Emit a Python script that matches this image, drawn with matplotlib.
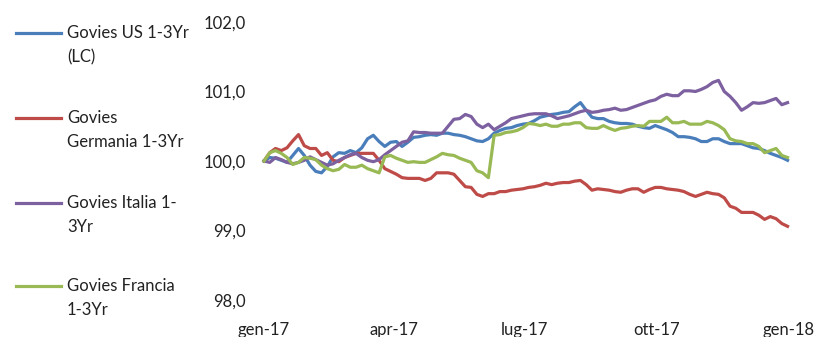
# Govies 1-3Yr indices, 2017 (base 100)

import matplotlib
matplotlib.use("Agg")
import matplotlib.pyplot as plt
import matplotlib.dates as mdates
from matplotlib.lines import Line2D
import pandas as pd

# Data (sampled every 4 days from the chart)
dates = pd.date_range("2017-01-01", periods=92, freq="4D")

us = [100.00, 100.05, 100.04, 100.01, 99.98, 100.08, 100.18, 100.08, 99.94, 99.85,
      99.83, 99.92, 100.06, 100.12, 100.11, 100.15, 100.12, 100.19, 100.32, 100.37,
      100.28, 100.21, 100.27, 100.28, 100.21, 100.27, 100.34, 100.35, 100.37, 100.38,
      100.37, 100.40, 100.40, 100.38, 100.37, 100.35, 100.32, 100.29, 100.28, 100.32,
      100.40, 100.44, 100.47, 100.48, 100.51, 100.53, 100.54, 100.58, 100.63, 100.65,
      100.67, 100.68, 100.70, 100.71, 100.78, 100.84, 100.73, 100.63, 100.61, 100.61,
      100.57, 100.55, 100.54, 100.54, 100.53, 100.50, 100.48, 100.47, 100.51, 100.48,
      100.45, 100.41, 100.35, 100.35, 100.34, 100.32, 100.28, 100.28, 100.32, 100.32,
      100.28, 100.25, 100.25, 100.25, 100.22, 100.19, 100.18, 100.15, 100.11, 100.08,
      100.05, 100.01]

germania = [100.00, 100.12, 100.18, 100.15, 100.19, 100.29, 100.38, 100.22, 100.18, 100.18,
            100.08, 100.12, 100.01, 99.99, 100.05, 100.08, 100.11, 100.11, 100.11, 100.11,
            100.01, 99.89, 99.85, 99.81, 99.76, 99.75, 99.75, 99.75, 99.72, 99.75,
            99.83, 99.83, 99.83, 99.81, 99.72, 99.63, 99.62, 99.52, 99.49, 99.53,
            99.53, 99.56, 99.56, 99.58, 99.59, 99.60, 99.62, 99.63, 99.65, 99.68,
            99.66, 99.68, 99.69, 99.69, 99.71, 99.72, 99.66, 99.58, 99.60, 99.59,
            99.58, 99.56, 99.55, 99.58, 99.60, 99.60, 99.55, 99.59, 99.62, 99.62,
            99.60, 99.59, 99.58, 99.56, 99.52, 99.49, 99.52, 99.55, 99.53, 99.52,
            99.47, 99.35, 99.32, 99.26, 99.26, 99.26, 99.22, 99.16, 99.20, 99.17,
            99.10, 99.06]

italia = [100.00, 99.98, 100.05, 100.02, 99.98, 99.96, 99.98, 100.01, 100.06, 100.02,
          99.98, 99.94, 99.96, 100.01, 100.05, 100.09, 100.11, 100.05, 100.01, 99.99,
          100.02, 100.09, 100.15, 100.21, 100.27, 100.29, 100.42, 100.41, 100.41, 100.40,
          100.40, 100.40, 100.50, 100.60, 100.61, 100.67, 100.64, 100.53, 100.48, 100.53,
          100.45, 100.50, 100.55, 100.61, 100.63, 100.65, 100.67, 100.68, 100.68, 100.68,
          100.65, 100.61, 100.63, 100.65, 100.68, 100.71, 100.73, 100.70, 100.71, 100.73,
          100.74, 100.76, 100.73, 100.74, 100.77, 100.80, 100.83, 100.86, 100.88, 100.93,
          100.96, 100.94, 100.94, 101.01, 101.01, 101.00, 101.03, 101.07, 101.13, 101.16,
          101.00, 100.93, 100.84, 100.73, 100.78, 100.84, 100.83, 100.84, 100.87, 100.90,
          100.81, 100.84]

francia = [100.00, 100.12, 100.15, 100.11, 100.05, 99.95, 99.98, 100.05, 100.04, 100.02,
           99.94, 99.89, 99.86, 99.88, 99.95, 99.91, 99.91, 99.94, 99.89, 99.86,
           99.83, 100.06, 100.08, 100.04, 100.01, 99.98, 99.99, 99.98, 99.98, 100.02,
           100.06, 100.11, 100.09, 100.08, 100.04, 100.01, 99.98, 99.86, 99.83, 99.76,
           100.37, 100.38, 100.41, 100.42, 100.44, 100.48, 100.54, 100.53, 100.51, 100.53,
           100.50, 100.50, 100.53, 100.53, 100.55, 100.55, 100.48, 100.47, 100.47, 100.51,
           100.47, 100.44, 100.47, 100.48, 100.50, 100.51, 100.50, 100.57, 100.57, 100.57,
           100.63, 100.55, 100.55, 100.57, 100.53, 100.53, 100.53, 100.57, 100.55, 100.51,
           100.45, 100.32, 100.29, 100.28, 100.25, 100.25, 100.21, 100.12, 100.15, 100.18,
           100.08, 100.05]

labels = ["Govies US 1-3Yr\n(LC)", "Govies\nGermania 1-3Yr",
          "Govies Italia 1-\n3Yr", "Govies Francia\n1-3Yr"]
colors = ["#4a7ebb", "#be4b48", "#7d60a0", "#98b954"]
series = [us, germania, italia, francia]

yticks = [98.0, 99.0, 100.0, 101.0, 102.0]
xticks = pd.to_datetime(["2017-01-01", "2017-04-01", "2017-07-01", "2017-10-01", "2018-01-01"])
xticklabels = ["gen-17", "apr-17", "lug-17", "ott-17", "gen-18"]

plt.rcParams["font.family"] = ["Lato", "DejaVu Sans"]

W, H = 823, 337
fig = plt.figure(figsize=(W / 100, H / 100), dpi=100)
ax = fig.add_axes([264 / W, (H - 300) / H, 525 / W, 278 / H])

for vals, col in zip(series, colors):
    ax.plot(dates, vals, color=col, lw=2.3, clip_on=False, solid_joinstyle="round")

ax.set_xlim(xticks[0], xticks[-1])
ax.set_ylim(98, 102)
ax.set_yticks(yticks)
ax.set_yticklabels([f"{v:.1f}".replace(".", ",") for v in yticks])
ax.set_xticks(xticks)
ax.set_xticklabels(xticklabels)
ax.tick_params(axis="y", length=0, pad=13, labelsize=12, colors="#222222")
ax.tick_params(axis="x", length=0, pad=16, labelsize=12, colors="#222222")
for s in ax.spines.values():
    s.set_visible(False)

# legend on the left
legend_y = [33, 118, 203, 286]
for lab, col, y in zip(labels, colors, legend_y):
    fig.add_artist(Line2D([16 / W, 61 / W], [1 - y / H, 1 - y / H], color=col, lw=2.3))
    for k, line in enumerate(lab.split("\n")):
        fig.text(67 / W, 1 - (y + 24 * k) / H, line, fontsize=12,
                 va="center", ha="left", color="#222222")

fig.savefig("out.png", dpi=100)
